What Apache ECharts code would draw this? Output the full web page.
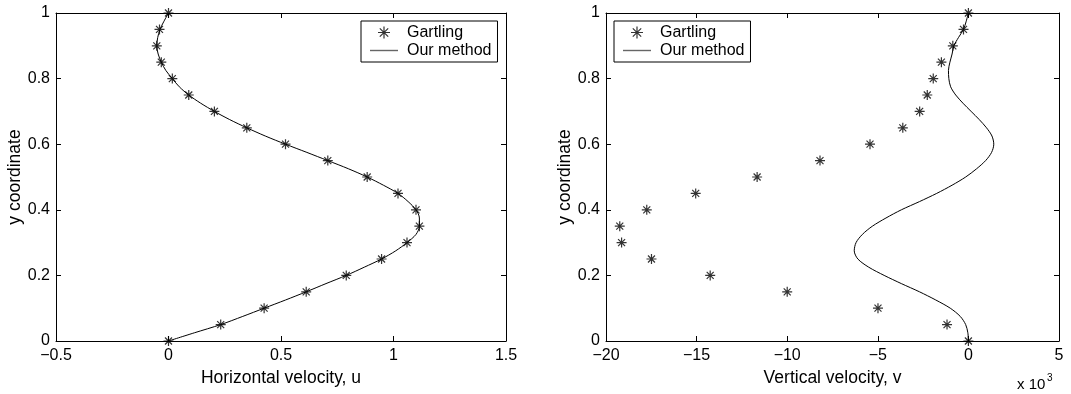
<!DOCTYPE html>
<html>
<head>
<meta charset="utf-8">
<script src="https://cdn.jsdelivr.net/npm/echarts@6/dist/echarts.min.js"></script>
<style>
html,body{margin:0;padding:0;background:#fff;}
#chart{width:1071px;height:394px;}
</style>
</head>
<body>
<div id="chart"></div>
<script>
// ---- data ----
const gartlingY = [0, 0.05, 0.1, 0.15, 0.2, 0.25, 0.3, 0.35, 0.4, 0.45, 0.5, 0.55, 0.6, 0.65, 0.7, 0.75, 0.8, 0.85, 0.9, 0.95, 1.0];
const gartlingU = [0, 0.232, 0.425, 0.612, 0.79, 0.947, 1.06, 1.115, 1.10, 1.02, 0.883, 0.708, 0.52, 0.348, 0.204, 0.09, 0.017, -0.032, -0.052, -0.04, 0];
// vertical velocity, in units of 10^3 as labelled on the axis
const gartlingV = [0, -1.18, -4.99, -10.0, -14.25, -17.49, -19.14, -19.24, -17.75, -15.05, -11.66, -8.19, -5.43, -3.62, -2.69, -2.27, -1.94, -1.49, -0.86, -0.27, 0];

const methodY = [0, 0.025, 0.05, 0.075, 0.1, 0.125, 0.15, 0.175, 0.2, 0.225, 0.25, 0.275, 0.3, 0.325, 0.35, 0.375, 0.4, 0.425, 0.45, 0.475, 0.5, 0.525, 0.55, 0.575, 0.6, 0.625, 0.65, 0.675, 0.7, 0.725, 0.75, 0.775, 0.8, 0.825, 0.85, 0.875, 0.9, 0.925, 0.95, 0.975, 1.0];
const methodU = [0, 0.115, 0.232, 0.33, 0.425, 0.52, 0.612, 0.70, 0.79, 0.87, 0.947, 1.01, 1.06, 1.10, 1.115, 1.115, 1.10, 1.065, 1.02, 0.955, 0.883, 0.80, 0.708, 0.615, 0.52, 0.43, 0.348, 0.272, 0.204, 0.143, 0.09, 0.048, 0.017, -0.012, -0.032, -0.046, -0.052, -0.048, -0.038, -0.02, 0];
const methodV = [0, -0.03, -0.15, -0.45, -1.0, -1.8, -2.7, -3.7, -4.65, -5.5, -6.1, -6.3, -6.2, -5.85, -5.3, -4.55, -3.7, -2.7, -1.75, -0.9, -0.15, 0.45, 0.95, 1.28, 1.4, 1.3, 1.0, 0.6, 0.15, -0.3, -0.7, -0.98, -1.08, -1.1, -1.02, -0.9, -0.8, -0.55, -0.27, -0.12, 0];

const xTicksLeft = [-0.5, 0, 0.5, 1, 1.5];
const xTicksRight = [-20, -15, -10, -5, 0, 5];
const yTicks = [0, 0.2, 0.4, 0.6, 0.8, 1];

const leftXName = 'Horizontal velocity, u';
const rightXName = 'Vertical velocity, v';
const yName = 'y coordinate';
const seriesNames = ['Gartling', 'Our method'];
const scaleNote = ['x 10', '3'];

// ---- build ----
const FONT = 'Liberation Sans, Arial, Helvetica, sans-serif';
const starPath = 'path://M5,0L5,10M0,5L10,5M1.5,1.5L8.5,8.5M1.5,8.5L8.5,1.5';
const dashPath = 'path://M0,0L28,0L28,1.4L0,1.4Z';
const pair = (xs, ys) => xs.map((x, i) => [x, ys[i]]);
const fmt = v => String(v).replace('-', '\u2212');

function xAxisDef(gridIndex, ticks, pos, name) {
  const bottom = pos === 'bottom';
  return {
    type: 'value', gridIndex, position: pos,
    min: ticks[0], max: ticks[ticks.length - 1], interval: ticks[1] - ticks[0],
    name: bottom ? name : '', nameLocation: 'middle', nameGap: 27,
    nameTextStyle: {fontFamily: FONT, fontSize: 17.5, color: '#000'},
    axisLine: {show: true, onZero: false, lineStyle: {color: '#000', width: 1}},
    axisTick: {show: true, inside: true, length: 5, lineStyle: {color: '#000'}},
    axisLabel: {show: bottom, formatter: fmt, fontFamily: FONT, fontSize: 16, color: '#000', margin: 7},
    splitLine: {show: false}
  };
}
function yAxisDef(gridIndex, pos, nameGap) {
  const left = pos === 'left';
  return {
    type: 'value', gridIndex, position: pos,
    min: yTicks[0], max: yTicks[yTicks.length - 1], interval: 0.2,
    name: left ? yName : '', nameLocation: 'middle', nameGap: nameGap, nameRotate: 90,
    nameTextStyle: {fontFamily: FONT, fontSize: 17.5, color: '#000'},
    axisLine: {show: true, onZero: false, lineStyle: {color: '#000', width: 1}},
    axisTick: {show: true, inside: true, length: 5, lineStyle: {color: '#000'}},
    axisLabel: {show: left, formatter: fmt, fontFamily: FONT, fontSize: 16, color: '#000', margin: 6},
    splitLine: {show: false}
  };
}
function legendDef(left) {
  return {
    left: left, top: 21, orient: 'vertical',
    backgroundColor: '#fff', borderColor: '#000', borderWidth: 1,
    padding: [3, 6, 3, 9], itemWidth: 28, itemHeight: 12, itemGap: 1,
    textStyle: {fontFamily: FONT, fontSize: 16, color: '#000', lineHeight: 17, padding: [0, 0, 0, 4]},
    selectedMode: false,
    data: [
      {name: seriesNames[0], icon: starPath, itemStyle: {color: 'none', borderColor: '#000', borderWidth: 1.2}},
      {name: seriesNames[1], icon: dashPath, itemStyle: {color: '#666', borderWidth: 0}, lineStyle: {color: '#666', width: 1.4}}
    ]
  };
}
function scatterDef(ai, xs) {
  return {
    name: seriesNames[0], type: 'scatter', xAxisIndex: ai, yAxisIndex: ai,
    data: pair(xs, gartlingY), symbol: starPath, symbolSize: 10, z: 5,
    itemStyle: {color: 'none', borderColor: '#000', borderWidth: 1.2},
    silent: true
  };
}
function lineDef(ai, xs) {
  return {
    name: seriesNames[1], type: 'line', xAxisIndex: ai, yAxisIndex: ai,
    data: pair(xs, methodY), showSymbol: false, symbol: 'none', smooth: 0.3, z: 3,
    lineStyle: {color: '#000', width: 1}, itemStyle: {color: '#000'},
    silent: true
  };
}

const option = {
  animation: false,
  backgroundColor: '#fff',
  title: [
    {text: scaleNote[0], left: 1017, top: 377, padding: 0,
     textStyle: {fontFamily: FONT, fontSize: 15, fontWeight: 'normal', color: '#000'}},
    {text: scaleNote[1], left: 1047, top: 373, padding: 0,
     textStyle: {fontFamily: FONT, fontSize: 10, fontWeight: 'normal', color: '#000'}}
  ],
  grid: [
    {left: 56, top: 13, width: 450, height: 328},
    {left: 606, top: 13, width: 453, height: 328}
  ],
  xAxis: [
    xAxisDef(0, xTicksLeft, 'bottom', leftXName),
    xAxisDef(0, xTicksLeft, 'top', ''),
    xAxisDef(1, xTicksRight, 'bottom', rightXName),
    xAxisDef(1, xTicksRight, 'top', '')
  ],
  yAxis: [
    yAxisDef(0, 'left', 32),
    yAxisDef(0, 'right', 0),
    yAxisDef(1, 'left', 32),
    yAxisDef(1, 'right', 0)
  ],
  legend: [legendDef(361), legendDef(614)],
  series: [
    lineDef(0, methodU),
    scatterDef(0, gartlingU),
    lineDef(2, methodV),
    scatterDef(2, gartlingV)
  ]
};

const chart = echarts.init(document.getElementById('chart'), null, {renderer: 'canvas'});
chart.setOption(option);
</script>
</body>
</html>
